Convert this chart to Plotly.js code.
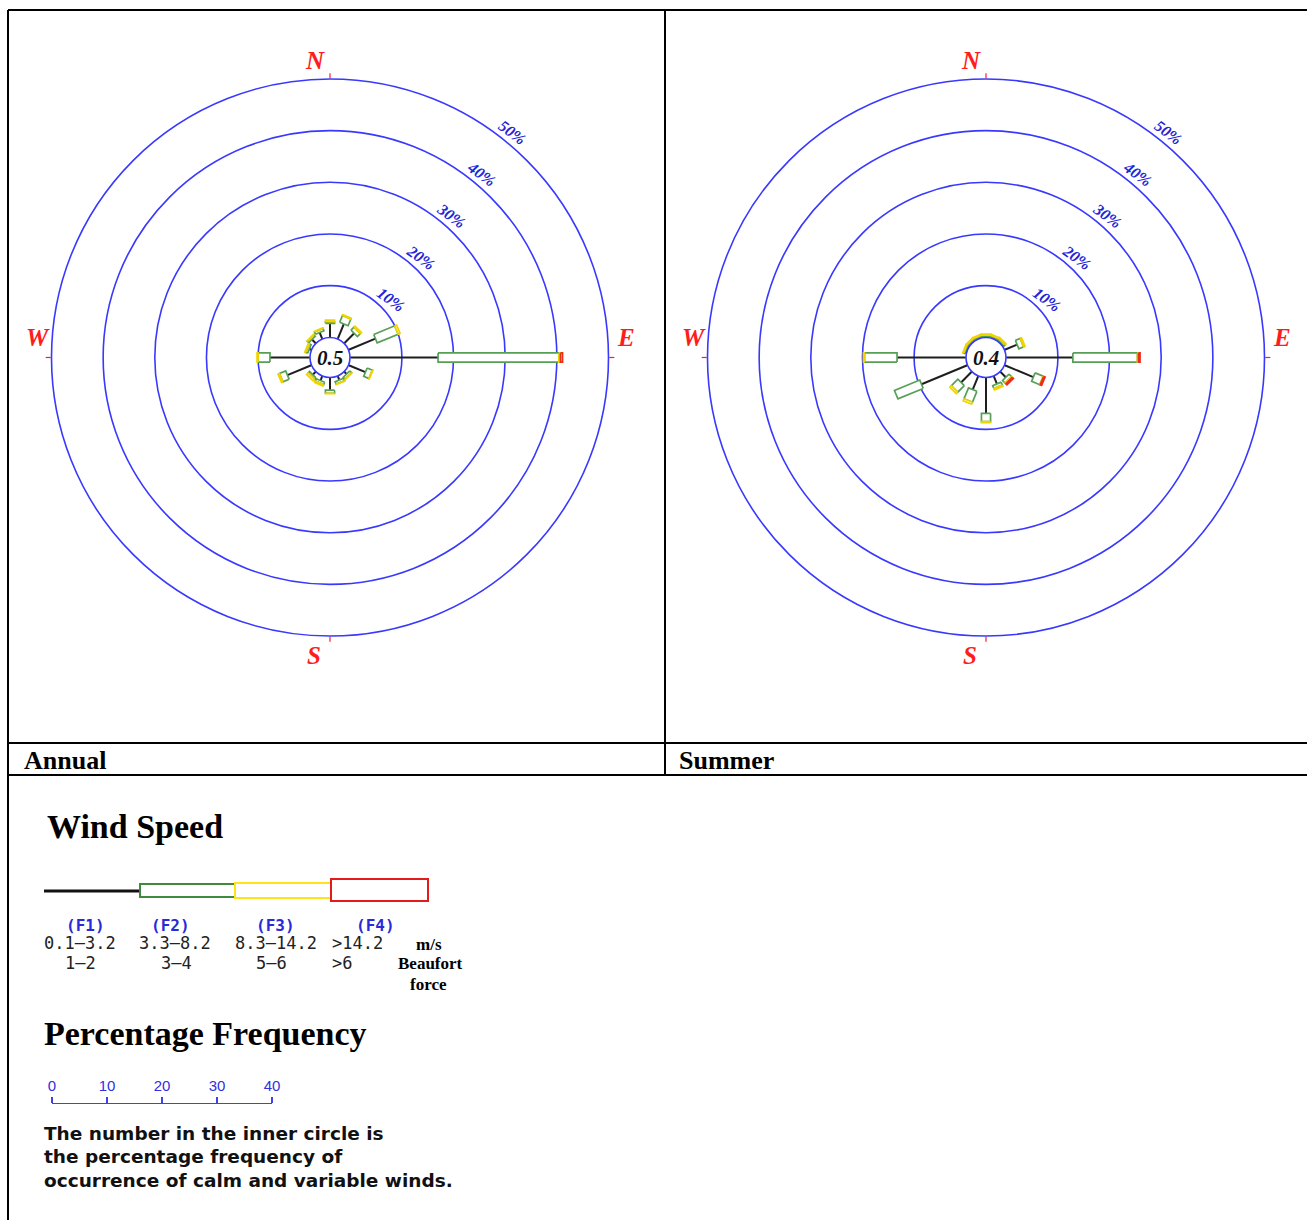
<!DOCTYPE html>
<html>
<head>
<meta charset="utf-8">
<script src="https://cdn.plot.ly/plotly-3.0.1.min.js"></script>
<style>
html, body { margin: 0; padding: 0; background: #ffffff; }
#chart { width: 1307px; height: 1220px; }
</style>
</head>
<body>
<div id="chart"></div>
<script>
// ---------------- data ----------------
const DIR_NAMES = ['N','NNE','NE','ENE','E','ESE','SE','SSE','S','SSW','SW','WSW','W','WNW','NW','NNW'];
const DIR_DEG = [0,22.5,45,67.5,90,112.5,135,157.5,180,202.5,225,247.5,270,292.5,315,337.5];

const ANNUAL_F1 = [2.7,3.1,2.7,5.6,17.0,3.5,0.6,0.8,2.4,0.9,0.8,5.0,7.7,0.4,1.0,1.3];
const ANNUAL_F2 = [0.3,1.4,0.8,4.4,23.4,1.1,0.5,0.5,0.6,0.5,0.4,1.3,2.3,0.4,0.4,0.5];
const ANNUAL_F3 = [0.3,0.2,0.3,0.4,0.3,0.1,0.1,0.1,0.1,0.3,0.4,0.3,0.2,0.2,0.1,0.1];
const ANNUAL_F4 = [0,0,0,0,0.4,0,0,0,0,0,0,0,0,0,0,0];

const SUMMER_F1 = [0.1,0.1,0.1,2.6,12.9,6.0,1.5,1.6,6.9,2.8,2.9,9.6,13.3,0.1,0.1,0.1];
const SUMMER_F2 = [0.3,0.3,0.4,1.0,12.5,1.7,0.7,0.6,1.6,2.3,1.8,5.3,6.3,0.3,0.3,0.3];
const SUMMER_F3 = [0.2,0.2,0.2,0.3,0.2,0.1,0.2,0.3,0.2,0.4,0.4,0,0.2,0.2,0.2,0.2];
const SUMMER_F4 = [0,0,0,0,0.3,0.3,0.3,0,0,0,0,0,0,0,0,0];

const CALM = [0.5, 0.4];
const PANEL_TITLES = ['Annual', 'Summer'];

const RING_VALUES = [0,10,20,30,40,50];
const RING_LABELS = ['','10%','20%','30%','40%','50%'];
const COMPASS_DEG = [0,90,180,270];
const COMPASS_LABELS = ['N','E','S','W'];

const SPEED_CLASSES = ['(F1)','(F2)','(F3)','(F4)'];
const SPEED_MS = ['0.1\u20133.2','3.3\u20138.2','8.3\u201314.2','>14.2'];
const SPEED_BEAUFORT = ['1\u20132','3\u20134','5\u20136','>6'];
const SCALE_TICKS = [0,10,20,30,40];

// ---------------- geometry / style ----------------
const W = 1307, HGT = 1220;
const X = px => px / W;
const Y = py => 1 - py / HGT;

const R_MIN = -0.05, R_MAX = 50;
const OUTER_PX = 278.5, HOLE_PX = 20;
const HOLE = HOLE_PX / OUTER_PX;
const H0 = (R_MAX - R_MIN) * HOLE / (1 - HOLE);
const HALF_W = 0.88;

const BLUE = '#3838ff';
const LABEL_BLUE = '#2424d8';
const RED = '#ff1c1c';
const GREEN = '#55a055';
const YELLOW = '#f0d400';
const BOXRED = '#ec2c1c';

const CENTERS = [[330, 357.5], [986, 357.5]];
// label offsets (px) of the compass letters from each rose centre
const COMPASS_OFFSET = [[-15,-297],[296,-20],[-16,298],[-292,-20]];

function spokeTrace(subplot, f1) {
  const r = [], t = [];
  DIR_DEG.forEach((th, i) => {
    if (!(f1[i] > 0)) return;
    r.push(0, f1[i], null); t.push(th, th, null);
  });
  return {type:'scatterpolar', subplot, mode:'lines', r, theta:t,
    line:{color:'#1e1e1e', width:2}, hoverinfo:'skip', cliponaxis:false, showlegend:false};
}

function boxTrace(subplot, starts, lens, color) {
  const r = [], t = [];
  DIR_DEG.forEach((th, i) => {
    if (!(lens[i] > 0)) return;
    const r0 = starts[i], r1 = starts[i] + lens[i];
    const c = (rv, s) => {
      const rho = rv - R_MIN + H0;
      r.push(Math.hypot(rho, HALF_W) - H0 + R_MIN);
      t.push(th + s * Math.atan(HALF_W / rho) * 180 / Math.PI);
    };
    c(r0,-1); c(r1,-1); c(r1,1); c(r0,1); c(r0,-1);
    r.push(null); t.push(null);
  });
  return {type:'scatterpolar', subplot, mode:'lines', r, theta:t, fill:'toself',
    fillcolor:'#ffffff', line:{color, width:1.7}, hoverinfo:'skip', cliponaxis:false, showlegend:false};
}

const PANELS = [
  {sub:'polar',  f:[ANNUAL_F1, ANNUAL_F2, ANNUAL_F3, ANNUAL_F4]},
  {sub:'polar2', f:[SUMMER_F1, SUMMER_F2, SUMMER_F3, SUMMER_F4]}
];

const traces = [];
PANELS.forEach(p => {
  const [f1, f2, f3, f4] = p.f;
  const s2 = f1.slice();
  const s3 = f1.map((v, i) => v + f2[i]);
  const s4 = s3.map((v, i) => v + f3[i]);
  traces.push(spokeTrace(p.sub, f1));
  traces.push(boxTrace(p.sub, s2, f2, GREEN));
  traces.push(boxTrace(p.sub, s3, f3, YELLOW));
  traces.push(boxTrace(p.sub, s4, f4, BOXRED));
});
// anchor trace for the percentage-frequency scale bar
traces.push({type:'scatter', xaxis:'x3', yaxis:'y3', x:[SCALE_TICKS[0], SCALE_TICKS[SCALE_TICKS.length-1]], y:[0,0],
  mode:'markers', marker:{opacity:0, size:1}, hoverinfo:'skip', showlegend:false});

function polarLayout(cx, cy) {
  return {
    domain: {x:[X(cx - OUTER_PX), X(cx + OUTER_PX)], y:[Y(cy + OUTER_PX), Y(cy - OUTER_PX)]},
    hole: HOLE,
    bgcolor: '#ffffff',
    radialaxis: {
      range:[R_MIN, R_MAX], tickmode:'array', tickvals: RING_VALUES,
      ticktext: RING_LABELS.map(s => s ? s + '<br>\u00a0' : s),
      showline:false, ticks:'', gridcolor:BLUE, gridwidth:1.6,
      angle: 54, side:'clockwise', tickangle: 90,
      tickfont:{family:'Liberation Serif', size:16, color:LABEL_BLUE, weight:'bold', style:'italic'}
    },
    angularaxis: {
      rotation:90, direction:'clockwise', tickmode:'array',
      tickvals: COMPASS_DEG, ticktext: COMPASS_LABELS, showticklabels:false,
      showgrid:false, showline:true, linecolor:BLUE, linewidth:1.6,
      ticks:'outside', ticklen:5, tickcolor:RED, tickwidth:1.2
    }
  };
}

const shapes = [];
const lineShape = (x0,y0,x1,y1,color,width) => ({type:'line', xref:'paper', yref:'paper',
  x0:X(x0), y0:Y(y0), x1:X(x1), y1:Y(y1), line:{color, width}});
// table frame
shapes.push(lineShape(8,10,1307,10,'#000',2));
shapes.push(lineShape(8,10,8,1220,'#000',2));
shapes.push(lineShape(665,10,665,775,'#000',2));
shapes.push(lineShape(8,743,1307,743,'#000',2));
shapes.push(lineShape(8,775,1307,775,'#000',2));
// wind speed key
shapes.push(lineShape(44,891,140,891,'#111',3));
const rectShape = (x0,y0,x1,y1,color) => ({type:'rect', xref:'paper', yref:'paper',
  x0:X(x0), y0:Y(y1), x1:X(x1), y1:Y(y0), line:{color, width:2}, fillcolor:'#ffffff'});
shapes.push(rectShape(140,884,235,897,'#3f8a3f'));
shapes.push(rectShape(235,883,331,898,'#ffe21a'));
shapes.push(rectShape(331,879,428,901,'#e41b1b'));

const annotations = [];
const ann = (text, x, y, font, xanchor) => annotations.push({text, xref:'paper', yref:'paper',
  x:X(x), y:Y(y), xanchor: xanchor || 'left', yanchor:'middle', showarrow:false, font});

CENTERS.forEach((c, i) => {
  // calm value in the inner circle
  ann(CALM[i].toFixed(1), c[0], c[1], {family:'Liberation Serif', size:21, color:'#111', weight:'bold', style:'italic'}, 'center');
  // compass letters
  COMPASS_LABELS.forEach((lab, k) => ann(lab, c[0] + COMPASS_OFFSET[k][0], c[1] + COMPASS_OFFSET[k][1],
    {family:'Liberation Serif', size:25, color:RED, weight:'bold', style:'italic'}, 'center'));
});
// panel titles
ann(PANEL_TITLES[0], 22, 760, {family:'Liberation Serif', size:26, color:'#000', weight:'bold'});
ann(PANEL_TITLES[1], 677, 760, {family:'Liberation Serif', size:26, color:'#000', weight:'bold'});
// legend headings
ann('Wind Speed', 45, 826, {family:'Liberation Serif', size:34, color:'#000', weight:'bold'});
ann('Percentage Frequency', 42, 1033, {family:'Liberation Serif', size:34, color:'#000', weight:'bold'});
// speed classes
const CLASS_X = [85, 170, 275, 375];
const MS_X = [80, 175, 276, 358];
const BF_X = [80, 176, 271, 342];
SPEED_CLASSES.forEach((s, i) => ann(s, CLASS_X[i], 925, {family:'DejaVu Sans Mono', size:16, color:'#2a2ad8', weight:'bold'}, 'center'));
SPEED_MS.forEach((s, i) => ann(s, MS_X[i], 943, {family:'DejaVu Sans Mono', size:17, color:'#222'}, 'center'));
SPEED_BEAUFORT.forEach((s, i) => ann(s, BF_X[i], 963, {family:'DejaVu Sans Mono', size:17, color:'#222'}, 'center'));
ann('m/s', 429, 944, {family:'Liberation Serif', size:17, color:'#000', weight:'bold'}, 'center');
ann('Beaufort', 430, 964, {family:'Liberation Serif', size:17, color:'#000', weight:'bold'}, 'center');
ann('force', 429, 984, {family:'Liberation Serif', size:17, color:'#000', weight:'bold'}, 'center');
// note
const NOTE = ['The number in the inner circle is', 'the percentage frequency of', 'occurrence of calm and variable winds.'];
NOTE.forEach((s, i) => ann(s, 42, 1133 + i * 23.5, {family:'DejaVu Sans', size:18.5, color:'#111', weight:'bold'}));

const layout = {
  width: W, height: HGT,
  margin: {l:0, r:0, t:0, b:0},
  paper_bgcolor: '#ffffff',
  plot_bgcolor: 'rgba(0,0,0,0)',
  showlegend: false,
  polar: polarLayout(CENTERS[0][0], CENTERS[0][1]),
  polar2: polarLayout(CENTERS[1][0], CENTERS[1][1]),
  xaxis3: {
    domain:[X(52), X(272)], range:[0,40], anchor:'y3', side:'top',
    tickmode:'array', tickvals: SCALE_TICKS, showgrid:false, zeroline:false,
    showline:true, linecolor:'#4040ee', linewidth:1.5,
    ticks:'outside', ticklen:6, tickwidth:1.5, tickcolor:'#4040ee',
    tickfont:{family:'Liberation Sans', size:15, color:'#3030e0'}, fixedrange:true
  },
  yaxis3: {domain:[Y(1105), Y(1104)], anchor:'x3', visible:false, fixedrange:true},
  shapes, annotations
};

Plotly.newPlot('chart', traces, layout, {displayModeBar:false, staticPlot:true});
</script>
</body>
</html>
